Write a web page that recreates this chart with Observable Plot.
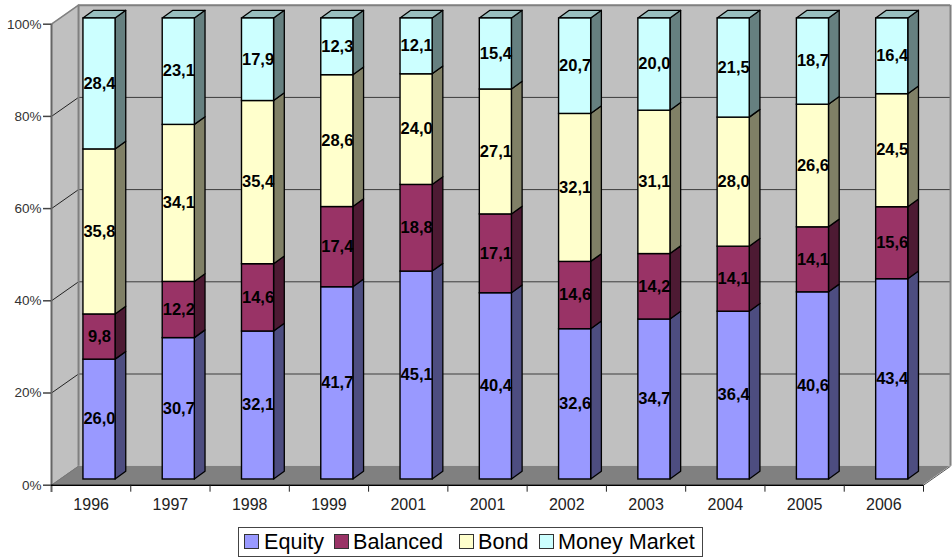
<!DOCTYPE html>
<html>
<head>
<meta charset="utf-8">
<script src="https://cdn.jsdelivr.net/npm/d3@7"></script>
<script src="https://cdn.jsdelivr.net/npm/@observablehq/plot@0.6"></script>
<style>
  html, body { margin: 0; padding: 0; background: #fff; }
  #chart svg { display: block; }
  #legend { position: relative; width: 952px; height: 32px; font-family: "Liberation Sans", Arial, sans-serif; font-size: 21.6px; color: #000; }
  #legend .box { position: absolute; left: 238px; top: 1px; width: 463px; height: 28px; border: 1.5px solid #444; background: #fff; }
  #legend .swatch { position: absolute; top: 8px; width: 13px; height: 13px; border: 1px solid #333; }
  #legend .name { position: absolute; top: 4px; line-height: 24px; white-space: nowrap; }
</style>
</head>
<body>
<div id="chart"></div>
<div id="legend"></div>
<script>
// Fund shares by year, in percent
const years = ["1996", "1997", "1998", "1999", "2001", "2001", "2002", "2003", "2004", "2005", "2006"];
const equity = [26.0, 30.7, 32.1, 41.7, 45.1, 40.4, 32.6, 34.7, 36.4, 40.6, 43.4];
const balanced = [9.8, 12.2, 14.6, 17.4, 18.8, 17.1, 14.6, 14.2, 14.1, 14.1, 15.6];
const bond = [35.8, 34.1, 35.4, 28.6, 24.0, 27.1, 32.1, 31.1, 28.0, 26.6, 24.5];
const moneyMarket = [28.4, 23.1, 17.9, 12.3, 12.1, 15.4, 20.7, 20.0, 21.5, 18.7, 16.4];

const seriesNames = ["Equity", "Balanced", "Bond", "Money Market"];
const seriesValues = [equity, balanced, bond, moneyMarket];
const faceColors = ["#9999FF", "#993366", "#FFFFCC", "#CCFFFF"];
const sideColors = ["#4D4D80", "#4D1A33", "#808066", "#668080"];
const capColor = "#99BFBF";
const legendSwatchX = [244, 334, 459, 539];
const legendTextX = [264, 353, 478, 558];

// Oblique projection constants, expressed in data units of the x and y scales
const wallDx = 0.341, wallDy = 4.12;
const barDx = 0.135, barDy = 1.67;
const barLeft = 0.403, barWidth = 0.405, barLift = 1.24;

// Cumulative 100% stacking for each year
const segments = [];
years.forEach((year, i) => {
  const total = d3.sum(seriesValues, s => s[i]);
  let acc = 0;
  seriesValues.forEach((s, k) => {
    const lo = acc / total * 100;
    acc += s[i];
    const hi = acc / total * 100;
    segments.push({
      key: `${i}-${k}`, i, k, value: s[i],
      x1: i + barLeft, x2: i + barLeft + barWidth,
      y1: lo + barLift, y2: hi + barLift,
      last: k === seriesValues.length - 1
    });
  });
});

// Side faces: each parallelogram is an area between two stations
const sideRows = segments.flatMap(d => [
  {key: d.key, k: d.k, x: d.x2, y1: d.y1, y2: d.y2},
  {key: d.key, k: d.k, x: d.x2 + barDx, y1: d.y1 + barDy, y2: d.y2 + barDy}
]);
// Top caps of the bars
const capRows = segments.filter(d => d.last).flatMap(d => [
  {key: d.key, x1: d.x1, x2: d.x2, y: d.y2},
  {key: d.key, x1: d.x1 + barDx, x2: d.x2 + barDx, y: d.y2 + barDy}
]);

const gridTicks = [20, 40, 60, 80];
const axisTicks = [0, 20, 40, 60, 80, 100];

const wallColor = "#C0C0C0", floorColor = "#808080", edgeColor = "#808080";
const n = years.length;

const chart = Plot.plot({
  width: 952,
  height: 526,
  marginLeft: 51,
  marginRight: 29,
  marginTop: 23.7,
  marginBottom: 41.3,
  style: {fontFamily: "'Liberation Sans', Arial, sans-serif", background: "#fff", overflow: "visible"},
  x: {type: "linear", domain: [0, n]},
  y: {type: "linear", domain: [0, 100]},
  color: {type: "identity"},
  marks: [
    // Back wall
    Plot.rect([0], {x1: wallDx, x2: n + wallDx, y1: wallDy, y2: 100 + wallDy, fill: wallColor}),
    // Left wall
    Plot.area([{x: 0, y1: 0, y2: 100}, {x: wallDx, y1: wallDy, y2: 100 + wallDy}],
      {x1: "x", x2: "x", y1: "y1", y2: "y2", fill: wallColor}),
    // Floor
    Plot.area([{x1: 0, x2: n, y: 0}, {x1: wallDx, x2: n + wallDx, y: wallDy}],
      {x1: "x1", x2: "x2", y1: "y", y2: "y", fill: floorColor}),
    // Grid lines on the back wall and their diagonals on the left wall
    Plot.ruleY(gridTicks, {y: d => d + wallDy, x1: wallDx, x2: n + wallDx, stroke: "#3c3c3c", strokeWidth: 1}),
    Plot.link(gridTicks, {x1: 0, y1: d => d, x2: wallDx, y2: d => d + wallDy, stroke: "#222", strokeWidth: 1}),
    // Wall outlines
    Plot.ruleY([100 + wallDy], {x1: wallDx, x2: n + wallDx, stroke: edgeColor, strokeWidth: 2}),
    Plot.ruleX([wallDx, n + wallDx], {y1: wallDy, y2: 100 + wallDy, stroke: edgeColor, strokeWidth: 2}),
    Plot.link([0], {x1: 0, y1: 100, x2: wallDx, y2: 100 + wallDy, stroke: edgeColor, strokeWidth: 1.5}),
    Plot.link([0], {x1: n, y1: 0, x2: n + wallDx, y2: wallDy, stroke: "#555", strokeWidth: 1}),
    Plot.link([0], {x1: 0, y1: 0, x2: wallDx, y2: wallDy, stroke: "#777", strokeWidth: 1}),
    // Axes
    Plot.ruleX([0], {y1: -1.6, y2: 100, stroke: "#666", strokeWidth: 2}),
    Plot.ruleY([0], {x1: 0, x2: n, stroke: "#000", strokeWidth: 1.5}),
    Plot.axisY({ticks: axisTicks, tickFormat: d => d + "%", tickSize: 8, tickPadding: 2,
      label: null, fontSize: 13.5, color: "#333", stroke: "#444", strokeWidth: 1.5}),
    Plot.axisX({ticks: d3.range(1, n + 1), tickFormat: () => "", tickSize: 7, label: null, stroke: "#222"}),
    Plot.axisX({ticks: years.map((_, i) => i + 0.5), tickFormat: d => years[d - 0.5], tickSize: 0, tickPadding: 13,
      label: null, fontSize: 16, color: "#222"}),
    // Bars: side faces, caps, then front faces
    Plot.area(sideRows, {x1: "x", x2: "x", y1: "y1", y2: "y2", z: "key",
      fill: d => sideColors[d.k], stroke: "#000", strokeWidth: 1.3}),
    Plot.area(capRows, {x1: "x1", x2: "x2", y1: "y", y2: "y", z: "key",
      fill: capColor, stroke: "#000", strokeWidth: 1.3}),
    Plot.rect(segments, {x1: "x1", x2: "x2", y1: "y1", y2: "y2",
      fill: d => faceColors[d.k], stroke: "#000", strokeWidth: 1.4}),
    // Value labels
    Plot.text(segments, {
      x: d => (d.x1 + d.x2) / 2,
      y: d => (d.y1 + d.y2) / 2,
      text: d => d.value.toFixed(1).replace(".", ","),
      fontSize: 16.5, fontWeight: "bold", fill: "#000", dy: -0.5
    })
  ]
});
document.getElementById("chart").append(chart);

// Legend strip under the plot
const legend = d3.select("#legend");
legend.append("div").attr("class", "box");
seriesNames.forEach((name, k) => {
  legend.append("div").attr("class", "swatch")
    .style("left", legendSwatchX[k] + "px").style("background", faceColors[k]);
  legend.append("div").attr("class", "name")
    .style("left", legendTextX[k] + "px").text(name);
});
</script>
</body>
</html>
